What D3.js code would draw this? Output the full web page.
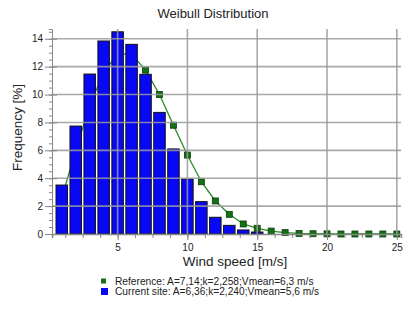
<!DOCTYPE html>
<html>
<head>
<meta charset="utf-8">
<script src="https://cdn.jsdelivr.net/npm/d3@7"></script>
<style>
  body { margin: 0; background: #fff; }
  text { font-family: Tahoma, "Liberation Sans", Arial, sans-serif; fill: #222; }
</style>
</head>
<body>
<div id="chart"></div>
<script>
// wind speed bins [m/s]
const speeds = d3.range(1, 26);
// current site frequencies [%]
const currentFreq = [3.51, 7.74, 11.47, 13.84, 14.5, 13.6, 11.45, 8.72, 6.1, 3.94,
  2.32, 1.2, 0.62, 0.29, 0.14, 0, 0, 0, 0, 0, 0, 0, 0, 0, 0];
// reference frequencies [%]
const refFreq = [2.6, 6.0, 9.2, 11.6, 12.9, 12.9, 11.75, 10.0, 7.8, 5.66,
  3.75, 2.37, 1.41, 0.72, 0.41, 0.21, 0.1, 0.04, 0.02, 0.01, 0, 0, 0, 0, 0];
const xTicks = [5, 10, 15, 20, 25];
const yTicks = [0, 2, 4, 6, 8, 10, 12, 14];
const legendLabels = [
  "Reference: A=7,14;k=2,258;Vmean=6,3 m/s",
  "Current site: A=6,36;k=2,240;Vmean=5,6 m/s"
];

const W = 403, H = 311;
const plotLeft = 52, plotRight = 401, plotTop = 29, plotBottom = 234;

const svg = d3.select("#chart").append("svg")
  .attr("width", W).attr("height", H);

const x = d3.scaleLinear().domain([0.3, 25.3]).range([plotLeft, plotRight]);
const y = d3.scaleLinear().domain([0, 14.7]).range([plotBottom, plotTop]);

const data = speeds.map((s, i) => ({ s, cur: currentFreq[i], ref: refFreq[i] }));

// title
svg.append("text")
  .attr("x", 213).attr("y", 18)
  .attr("text-anchor", "middle")
  .style("font-size", "13px")
  .text("Weibull Distribution");

// reference line + markers (behind the bars)
svg.append("path")
  .datum(data)
  .attr("fill", "none")
  .attr("stroke", "#2a8a2a")
  .attr("stroke-width", 1.3)
  .attr("d", d3.line().x(d => x(d.s)).y(d => y(d.ref)));

svg.selectAll(".mk")
  .data(data)
  .join("rect")
  .attr("class", "mk")
  .attr("x", d => x(d.s) - 3)
  .attr("y", d => y(d.ref) - 3)
  .attr("width", 6).attr("height", 6)
  .attr("fill", "#137013")
  .attr("stroke", "#0b3d0b")
  .attr("stroke-width", 0.8);

// bars
const bw = 11.5;
svg.selectAll(".bar")
  .data(data.filter(d => d.cur > 0))
  .join("rect")
  .attr("class", "bar")
  .attr("x", d => x(d.s) - bw / 2)
  .attr("y", d => y(d.cur))
  .attr("width", bw)
  .attr("height", d => y(0) - y(d.cur))
  .attr("fill", "#0808f5")
  .attr("stroke", "#111")
  .attr("stroke-width", 1);

// grid lines on top
const grid = svg.append("g")
  .attr("stroke", "#9a9a9a")
  .attr("stroke-width", 1.6)
  .attr("stroke-opacity", 0.85);
grid.selectAll(".gy")
  .data(yTicks.filter(t => t > 0))
  .join("line")
  .attr("x1", plotLeft).attr("x2", plotRight)
  .attr("y1", d => y(d)).attr("y2", d => y(d));
grid.selectAll(".gx")
  .data(xTicks)
  .join("line")
  .attr("x1", d => x(d)).attr("x2", d => x(d))
  .attr("y1", plotTop).attr("y2", plotBottom);

// y axis
svg.append("g")
  .attr("transform", `translate(${plotLeft},0)`)
  .call(d3.axisLeft(y).tickValues(d3.range(0, 14.6, 0.5)).tickSize(3).tickFormat(""))
  .call(g => g.select(".domain").attr("stroke", "#888"))
  .call(g => g.selectAll(".tick line").attr("stroke", "#888"));
svg.append("g")
  .attr("transform", `translate(${plotLeft},0)`)
  .call(d3.axisLeft(y).tickValues(yTicks).tickSize(7).tickPadding(2))
  .call(g => g.select(".domain").remove())
  .call(g => g.selectAll(".tick line").attr("stroke", "#888").attr("x2", 5).attr("x1", -7))
  .call(g => g.selectAll(".tick text").style("font-size", "10px").attr("fill", "#222")
    .style("font-family", "Tahoma, 'Liberation Sans', Arial, sans-serif"));

// x axis
svg.append("g")
  .attr("transform", `translate(0,${plotBottom})`)
  .call(d3.axisBottom(x).tickValues(d3.range(1.25, 25.01, 1.25)).tickSize(4).tickFormat(""))
  .call(g => g.select(".domain").attr("stroke", "#888").attr("stroke-width", 1.5))
  .call(g => g.selectAll(".tick line").attr("stroke", "#888"));
svg.append("g")
  .attr("transform", `translate(0,${plotBottom})`)
  .call(d3.axisBottom(x).tickValues(xTicks).tickSize(6).tickPadding(4))
  .call(g => g.select(".domain").remove())
  .call(g => g.selectAll(".tick line").attr("stroke", "#888"))
  .call(g => g.selectAll(".tick text").style("font-size", "10px").attr("fill", "#222")
    .style("font-family", "Tahoma, 'Liberation Sans', Arial, sans-serif"));

// axis titles
svg.append("text")
  .attr("transform", `translate(22,${(plotTop + plotBottom) / 2 - 4}) rotate(-90)`)
  .attr("text-anchor", "middle")
  .style("font-size", "13.5px")
  .text("Frequency [%]");
svg.append("text")
  .attr("x", 235).attr("y", 266)
  .attr("text-anchor", "middle")
  .style("font-size", "13.5px")
  .text("Wind speed [m/s]");

// legend
const lg = svg.append("g");
lg.append("rect").attr("x", 101).attr("y", 278.5).attr("width", 5).attr("height", 5)
  .attr("fill", "#137013");
lg.append("rect").attr("x", 101).attr("y", 288).attr("width", 7).attr("height", 7)
  .attr("fill", "#0808f5");
lg.selectAll(".lt")
  .data(legendLabels)
  .join("text")
  .attr("x", 115)
  .attr("y", (d, i) => 285 + i * 10)
  .style("font-size", "10.2px")
  .attr("fill", "#333")
  .text(d => d);
</script>
</body>
</html>
